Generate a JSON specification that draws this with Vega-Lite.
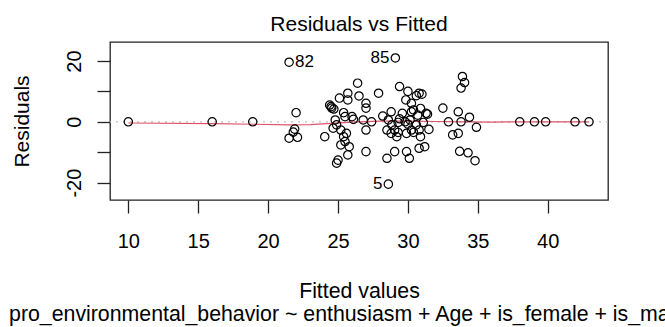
{
  "$schema": "https://vega.github.io/schema/vega-lite/v6.json",
  "width": 498,
  "height": 158,
  "autosize": {"type": "none"},
  "padding": {"left": 110, "top": 42, "right": 57, "bottom": 127},
  "background": "white",
  "config": {
    "font": "Liberation Sans",
    "view": {"stroke": "#222222", "strokeWidth": 1.3}
  },
  "title": {
    "text": "Residuals vs Fitted",
    "fontSize": 21,
    "fontWeight": "normal",
    "color": "black",
    "font": "Liberation Sans",
    "anchor": "middle",
    "frame": "group",
    "baseline": "bottom",
    "offset": 6,
    "dy": 20
  },
  "datasets": {
    "pts": [
      {"fitted": 10.0, "residual": 0.0, "id": ""},
      {"fitted": 16.0, "residual": 0.0, "id": ""},
      {"fitted": 18.9, "residual": 0.0, "id": ""},
      {"fitted": 21.5, "residual": 19.6, "id": "82"},
      {"fitted": 22.0, "residual": 3.0, "id": ""},
      {"fitted": 21.9, "residual": -2.4, "id": ""},
      {"fitted": 21.8, "residual": -3.4, "id": ""},
      {"fitted": 21.5, "residual": -5.4, "id": ""},
      {"fitted": 22.1, "residual": -5.1, "id": ""},
      {"fitted": 24.05, "residual": -4.9, "id": ""},
      {"fitted": 24.4, "residual": 5.5, "id": ""},
      {"fitted": 24.5, "residual": 5.0, "id": ""},
      {"fitted": 24.55, "residual": 4.5, "id": ""},
      {"fitted": 24.7, "residual": 4.2, "id": ""},
      {"fitted": 25.1, "residual": 7.8, "id": ""},
      {"fitted": 25.4, "residual": 3.0, "id": ""},
      {"fitted": 24.8, "residual": 0.6, "id": ""},
      {"fitted": 24.65, "residual": -2.1, "id": ""},
      {"fitted": 24.9, "residual": -1.0, "id": ""},
      {"fitted": 25.2, "residual": -2.7, "id": ""},
      {"fitted": 25.4, "residual": -4.9, "id": ""},
      {"fitted": 25.5, "residual": -6.5, "id": ""},
      {"fitted": 25.2, "residual": -7.6, "id": ""},
      {"fitted": 25.8, "residual": -8.2, "id": ""},
      {"fitted": 25.7, "residual": -10.9, "id": ""},
      {"fitted": 25.0, "residual": -12.6, "id": ""},
      {"fitted": 24.9, "residual": -13.6, "id": ""},
      {"fitted": 25.6, "residual": -3.8, "id": ""},
      {"fitted": 25.5, "residual": 1.7, "id": ""},
      {"fitted": 25.7, "residual": 9.4, "id": ""},
      {"fitted": 25.7, "residual": 7.2, "id": ""},
      {"fitted": 26.4, "residual": 12.7, "id": ""},
      {"fitted": 26.5, "residual": 8.5, "id": ""},
      {"fitted": 27.0, "residual": 6.1, "id": ""},
      {"fitted": 27.0, "residual": 4.5, "id": ""},
      {"fitted": 27.9, "residual": 9.4, "id": ""},
      {"fitted": 26.1, "residual": 0.8, "id": ""},
      {"fitted": 26.0, "residual": 1.7, "id": ""},
      {"fitted": 26.8, "residual": 0.6, "id": ""},
      {"fitted": 27.4, "residual": 0.0, "id": ""},
      {"fitted": 27.0, "residual": -2.7, "id": ""},
      {"fitted": 27.0, "residual": -9.8, "id": ""},
      {"fitted": 28.2, "residual": 1.9, "id": ""},
      {"fitted": 28.8, "residual": 3.3, "id": ""},
      {"fitted": 29.1, "residual": 21.0, "id": "85"},
      {"fitted": 28.6, "residual": -20.5, "id": "5"},
      {"fitted": 29.4, "residual": 11.6, "id": ""},
      {"fitted": 30.0, "residual": 10.0, "id": ""},
      {"fitted": 29.85, "residual": 7.2, "id": ""},
      {"fitted": 30.25, "residual": 6.1, "id": ""},
      {"fitted": 30.8, "residual": 9.4, "id": ""},
      {"fitted": 30.6, "residual": 8.6, "id": ""},
      {"fitted": 29.6, "residual": 2.8, "id": ""},
      {"fitted": 30.25, "residual": 3.3, "id": ""},
      {"fitted": 30.7, "residual": 2.2, "id": ""},
      {"fitted": 31.3, "residual": 2.8, "id": ""},
      {"fitted": 30.4, "residual": 3.9, "id": ""},
      {"fitted": 30.9, "residual": 4.4, "id": ""},
      {"fitted": 28.6, "residual": 0.6, "id": ""},
      {"fitted": 28.5, "residual": -2.7, "id": ""},
      {"fitted": 29.05, "residual": -2.7, "id": ""},
      {"fitted": 28.8, "residual": -3.8, "id": ""},
      {"fitted": 29.2, "residual": -4.9, "id": ""},
      {"fitted": 29.8, "residual": 0.0, "id": ""},
      {"fitted": 30.15, "residual": 0.6, "id": ""},
      {"fitted": 30.25, "residual": -2.7, "id": ""},
      {"fitted": 30.8, "residual": -2.7, "id": ""},
      {"fitted": 30.9, "residual": -4.9, "id": ""},
      {"fitted": 31.5, "residual": -2.5, "id": ""},
      {"fitted": 29.05, "residual": -9.8, "id": ""},
      {"fitted": 28.5, "residual": -12.0, "id": ""},
      {"fitted": 29.9, "residual": -9.8, "id": ""},
      {"fitted": 30.1, "residual": -12.0, "id": ""},
      {"fitted": 30.8, "residual": -8.7, "id": ""},
      {"fitted": 31.2, "residual": -8.2, "id": ""},
      {"fitted": 28.85, "residual": -1.0, "id": ""},
      {"fitted": 29.3, "residual": -0.2, "id": ""},
      {"fitted": 29.9, "residual": -3.8, "id": ""},
      {"fitted": 30.6, "residual": -1.0, "id": ""},
      {"fitted": 31.1, "residual": -0.2, "id": ""},
      {"fitted": 29.3, "residual": -3.5, "id": ""},
      {"fitted": 30.4, "residual": -3.5, "id": ""},
      {"fitted": 31.0, "residual": 9.1, "id": ""},
      {"fitted": 31.4, "residual": 2.5, "id": ""},
      {"fitted": 29.4, "residual": 1.0, "id": ""},
      {"fitted": 30.0, "residual": -0.8, "id": ""},
      {"fitted": 32.5, "residual": 4.5, "id": ""},
      {"fitted": 32.9, "residual": 0.0, "id": ""},
      {"fitted": 33.6, "residual": 3.3, "id": ""},
      {"fitted": 33.8, "residual": 0.0, "id": ""},
      {"fitted": 34.4, "residual": 1.5, "id": ""},
      {"fitted": 34.9, "residual": -1.8, "id": ""},
      {"fitted": 33.9, "residual": 14.9, "id": ""},
      {"fitted": 34.05, "residual": 12.9, "id": ""},
      {"fitted": 33.8, "residual": 11.1, "id": ""},
      {"fitted": 33.2, "residual": -4.3, "id": ""},
      {"fitted": 33.6, "residual": -3.8, "id": ""},
      {"fitted": 33.7, "residual": -9.7, "id": ""},
      {"fitted": 34.3, "residual": -10.2, "id": ""},
      {"fitted": 34.8, "residual": -12.8, "id": ""},
      {"fitted": 38.0, "residual": 0.0, "id": ""},
      {"fitted": 39.05, "residual": 0.0, "id": ""},
      {"fitted": 39.85, "residual": 0.0, "id": ""},
      {"fitted": 41.95, "residual": 0.0, "id": ""},
      {"fitted": 42.95, "residual": 0.0, "id": ""}
    ],
    "smooth": [
      {"fitted": 10.0, "residual": -0.4},
      {"fitted": 16.0, "residual": -0.6},
      {"fitted": 19.0, "residual": -0.8},
      {"fitted": 21.5, "residual": -1.0},
      {"fitted": 23.0, "residual": -0.9},
      {"fitted": 24.5, "residual": -0.5},
      {"fitted": 26.0, "residual": -0.1},
      {"fitted": 28.0, "residual": 0.2},
      {"fitted": 30.0, "residual": 0.2},
      {"fitted": 32.0, "residual": 0.1},
      {"fitted": 34.0, "residual": 0.0},
      {"fitted": 36.0, "residual": -0.1},
      {"fitted": 38.0, "residual": 0.0},
      {"fitted": 40.0, "residual": 0.0},
      {"fitted": 42.95, "residual": 0.0}
    ],
    "zero": [{"residual": 0}]
  },
  "encoding": {
    "x": {
      "field": "fitted",
      "type": "quantitative",
      "scale": {"domain": [8.69, 44.31], "nice": false, "zero": false},
      "axis": {
        "values": [10, 15, 20, 25, 30, 35, 40],
        "domain": false,
        "grid": false,
        "tickSize": 13,
        "tickColor": "#222222",
        "tickWidth": 1.3,
        "labelFlush": false,
        "labelFont": "Liberation Sans",
        "labelFontSize": 20,
        "labelColor": "black",
        "labelBaseline": "alphabetic",
        "labelPadding": 34,
        "title": ["Fitted values", "pro_environmental_behavior ~ enthusiasm + Age + is_female + is_male ..."],
        "titleFont": "Liberation Sans",
        "titleFontSize": 21.3,
        "titleFontWeight": "normal",
        "titleColor": "black",
        "titleBaseline": "alphabetic",
        "titleLineHeight": 23.5,
        "titleX": 249,
        "titleY": 97
      }
    },
    "y": {
      "field": "residual",
      "type": "quantitative",
      "scale": {"domain": [-25.72, 26.25], "nice": false, "zero": false},
      "axis": {
        "values": [-20, -10, 0, 10, 20],
        "domain": false,
        "grid": false,
        "tickSize": 13,
        "tickColor": "#222222",
        "tickWidth": 1.3,
        "labelFlush": false,
        "labelExpr": "datum.value % 20 == 0 ? '' + datum.value : ''",
        "labelAngle": -90,
        "labelAlign": "center",
        "labelBaseline": "alphabetic",
        "labelPadding": 17,
        "labelFont": "Liberation Sans",
        "labelFontSize": 20,
        "labelColor": "black",
        "title": "Residuals",
        "titleFont": "Liberation Sans",
        "titleFontSize": 21,
        "titleFontWeight": "normal",
        "titleColor": "black",
        "titleAngle": -90,
        "titleBaseline": "alphabetic",
        "titleX": -82,
        "titleY": 79
      }
    }
  },
  "layer": [
    {
      "data": {"name": "zero"},
      "mark": {"type": "rule", "color": "#bebebe", "strokeDash": [2, 5], "strokeWidth": 1.3},
      "encoding": {"x": null}
    },
    {
      "data": {"name": "smooth"},
      "mark": {"type": "line", "color": "#DF536B", "strokeWidth": 1.2}
    },
    {
      "data": {"name": "pts"},
      "mark": {"type": "point", "shape": "circle", "filled": false, "color": "black", "size": 70, "strokeWidth": 1.2, "opacity": 1}
    },
    {
      "data": {"name": "pts"},
      "transform": [{"filter": "datum.id != '' && datum.fitted < 26"}],
      "mark": {"type": "text", "align": "left", "baseline": "middle", "dx": 6, "fontSize": 17, "color": "black", "font": "Liberation Sans"},
      "encoding": {"text": {"field": "id"}}
    },
    {
      "data": {"name": "pts"},
      "transform": [{"filter": "datum.id != '' && datum.fitted >= 26"}],
      "mark": {"type": "text", "align": "right", "baseline": "middle", "dx": -6, "fontSize": 17, "color": "black", "font": "Liberation Sans"},
      "encoding": {"text": {"field": "id"}}
    }
  ]
}
